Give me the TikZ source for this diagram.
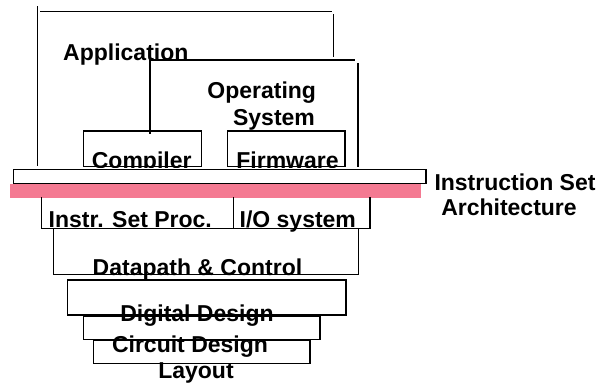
\documentclass[tikz,border=0pt]{standalone}
\usepackage{fontspec}
\setmainfont{Liberation Sans}
\begin{document}
\begin{tikzpicture}[x=1pt,y=-1pt,
  ln/.style={line width=1.2pt,line cap=rect},
  lbl/.style={anchor=base,inner sep=0pt,font=\fontsize{23}{27}\selectfont\bfseries}]
\useasboundingbox (0,0) rectangle (602,385);
% Application
\draw[ln] (37.7,7) -- (37.7,165);
\draw[ln] (41,11.7) -- (331,11.7);
\draw[ln] (333.3,15) -- (333.3,56);
% Operating system
\draw[ln] (150,60) -- (354,60);
\draw[ln] (150,60) -- (150,133.3);
\draw[ln] (358,63.3) -- (358,166.7);
% Compiler / Firmware
\draw[ln] (83.3,131) rectangle (201.7,166.7);
\draw[ln] (227.7,131) rectangle (345,166.7);
\node[lbl] (app) at (125.8,61) {Application};
\node[lbl] (op) at (261.7,98.3) {Operating};
\node[lbl] (sys) at (274,125) {System};
\node[lbl] (comp) at (141.7,168) {Compiler};
\node[lbl] (firm) at (287.5,168) {Firmware};
% ISA bar
\fill[white] (13.3,167.6) rectangle (426,183.3);
\draw[ln] (13.3,169.3) rectangle (426,183.3);
\fill[fill={rgb,255:red,244;green,122;blue,146}] (10,184.3) rectangle (420.7,197.7);
\node[lbl] (isa1) at (515,190) {Instruction Set};
\node[lbl] (isa2) at (509,215) {Architecture};
% Instr set proc / IO
\draw[ln] (41.7,197.7) -- (41.7,228.3) -- (370,228.3) -- (370,197.7);
\draw[ln] (233.3,197.7) -- (233.3,228.3);
\node[lbl] (isp) at (130.3,227.7) {Instr. Set Proc.};
\node[lbl] (io) at (297.8,227.7) {I/O system};
% Datapath
\draw[ln] (53.3,228.3) -- (53.3,274.3) -- (358.3,274.3) -- (358.3,228.3);
\node[lbl] (dp) at (197.5,275) {Datapath \& Control};
% Digital design
\draw[ln] (67.3,280) rectangle (346,315);
\node[lbl] (dd) at (197,321) {Digital Design};
% Circuit design
\draw[ln] (83.3,316.7) rectangle (320,339.3);
\node[lbl] (cd) at (190,352.7) {Circuit Design};
% Layout
\draw[ln] (93.3,340) rectangle (310,363.3);
\node[lbl] (lay) at (196,378) {Layout};
\end{tikzpicture}
\end{document}
